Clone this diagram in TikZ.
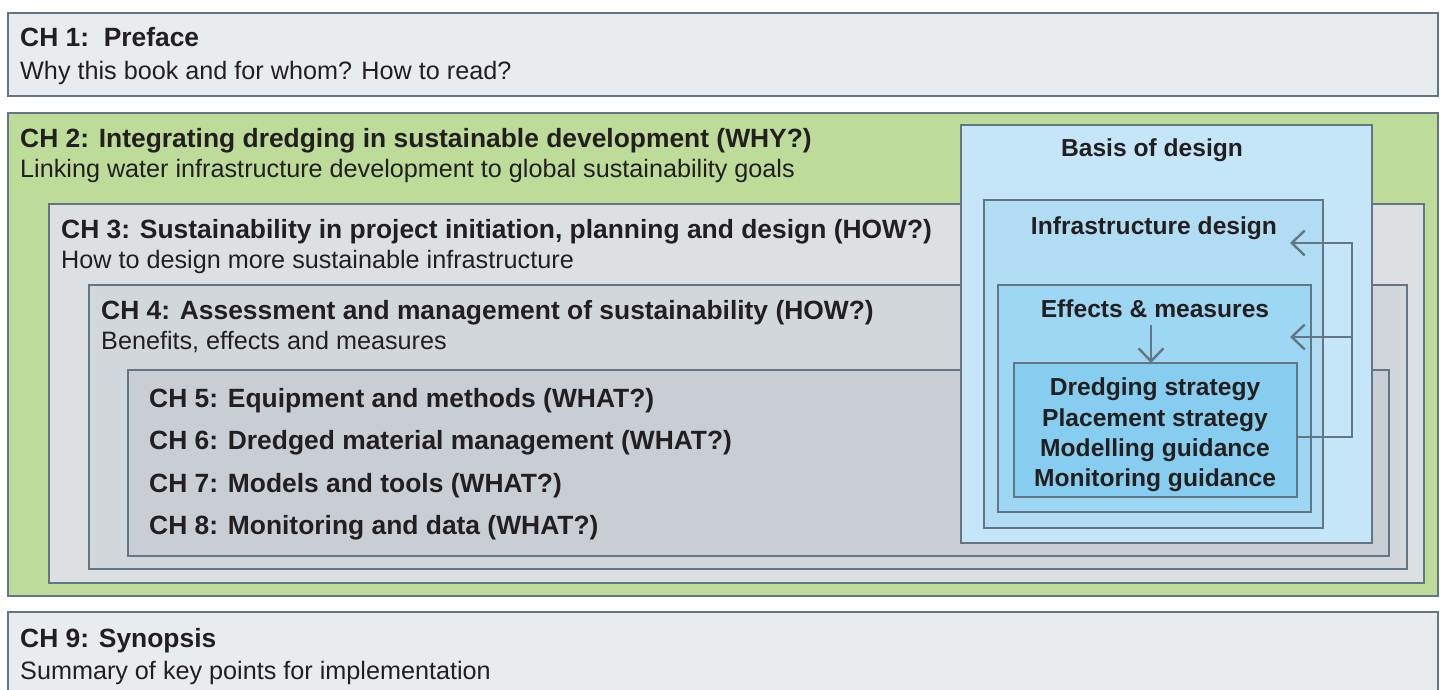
\documentclass[tikz,border=0pt]{standalone}
\usepackage{fontspec}
\setmainfont{Liberation Sans}
\usetikzlibrary{arrows.meta,calc}
\definecolor{bordc}{HTML}{627684}
\definecolor{txtc}{HTML}{231F20}
\definecolor{outerc}{HTML}{E8ECEF}
\definecolor{greenc}{HTML}{BDDC9A}
\definecolor{ch3c}{HTML}{DCE0E3}
\definecolor{ch4c}{HTML}{D2D7DB}
\definecolor{ch5c}{HTML}{C8CED4}
\definecolor{basisc}{HTML}{C4E6F8}
\definecolor{infrac}{HTML}{B0DDF4}
\definecolor{effc}{HTML}{9DD7F3}
\definecolor{innerc}{HTML}{86CDEF}
\begin{document}
\begin{tikzpicture}[x=1pt,y=-1pt,
  box/.style={draw=bordc, line width=2pt, anchor=north west, inner sep=0pt, outer sep=0pt},
  bbox/.style={box, line width=2.6pt},
  ttl/.style={anchor=base west, inner sep=0pt, text=txtc, font=\bfseries\fontsize{26.4}{30}\selectfont},
  sub/.style={anchor=base west, inner sep=0pt, text=txtc, font=\fontsize{25.2}{30}\selectfont},
  rt/.style={anchor=base, inner sep=0pt, text=txtc, font=\bfseries\fontsize{24.6}{30}\selectfont},
  arr/.style={draw=bordc, line width=2.4pt, -{Straight Barb[length=13pt,width=25pt]}},
  ln/.style={draw=bordc, line width=2.4pt}]
\useasboundingbox (0,0) rectangle (1440,690);
% outer boxes
\node[box, fill=outerc, minimum width=1430pt, minimum height=83pt] (ch1) at (8,13) {};
\node[box, fill=greenc, minimum width=1430pt, minimum height=483pt] (ch2) at (8,113) {};
\node[box, fill=ch3c, minimum width=1375pt, minimum height=379pt] (ch3) at (49,204) {};
\node[box, fill=ch4c, minimum width=1318pt, minimum height=284pt] (ch4) at (89,285) {};
\node[box, fill=ch5c, minimum width=1261pt, minimum height=186pt] (ch5) at (128,370) {};
\node[box, fill=outerc, minimum width=1430pt, minimum height=100pt] (ch9) at (8,612) {};
% right nested boxes
\node[bbox, fill=basisc, minimum width=411pt, minimum height=418pt] (basis) at (961,125) {};
\node[bbox, fill=infrac, minimum width=339pt, minimum height=328pt] (infra) at (984,200) {};
\node[bbox, fill=effc, minimum width=313pt, minimum height=227pt] (eff) at (998,285) {};
\node[bbox, fill=innerc, minimum width=283pt, minimum height=134pt] (inner) at (1014,363) {};
% texts
\node[ttl] (t1) at (20,47) {CH 1:\ \ Preface};
\node[sub] (s1) at (20,80) {Why this book and for whom? How to read?};
\node[ttl] (t2) at (20,147) {CH 2: Integrating dredging in sustainable development (WHY?)};
\node[sub] (s2) at (20,177) {Linking water infrastructure development to global sustainability goals};
\node[ttl] (t3) at (61,238) {CH 3: Sustainability in project initiation, planning and design (HOW?)};
\node[sub] (s3) at (61,268) {How to design more sustainable infrastructure};
\node[ttl] (t4) at (101,319) {CH 4: Assessment and management of sustainability (HOW?)};
\node[sub] (s4) at (101,349) {Benefits, effects and measures};
\node[ttl] (t5) at (149,407) {CH 5: Equipment and methods (WHAT?)};
\node[ttl] (t6) at (149,449) {CH 6: Dredged material management (WHAT?)};
\node[ttl] (t7) at (149,492) {CH 7: Models and tools (WHAT?)};
\node[ttl] (t8) at (149,534) {CH 8: Monitoring and data (WHAT?)};
\node[ttl] (t9) at (20,647) {CH 9: Synopsis};
\node[sub] (s9) at (20,679) {Summary of key points for implementation};
\node[rt] (rb) at (1152,157) {Basis of design};
\node[rt] (ri) at (1154,234) {Infrastructure design};
\node[rt] (re) at (1155,317) {Effects \& measures};
\node[rt] (r1) at (1155,395) {Dredging strategy};
\node[rt] (r2) at (1155,426) {Placement strategy};
\node[rt] (r3) at (1155,456) {Modelling guidance};
\node[rt] (r4) at (1155,486) {Monitoring guidance};
% connectors
\coordinate (a1) at (1290,243);
\coordinate (a2) at (1290,337);
\coordinate (j2) at (1352,337);
\coordinate (d0) at (1151,325);
\draw[arr] ($(inner.east)+(0,7)$) -- ++(55,0) |- (a1);
\draw[arr] (j2) -- (a2);
\draw[arr] (d0) -- (d0 |- inner.north);
\end{tikzpicture}
\end{document}
